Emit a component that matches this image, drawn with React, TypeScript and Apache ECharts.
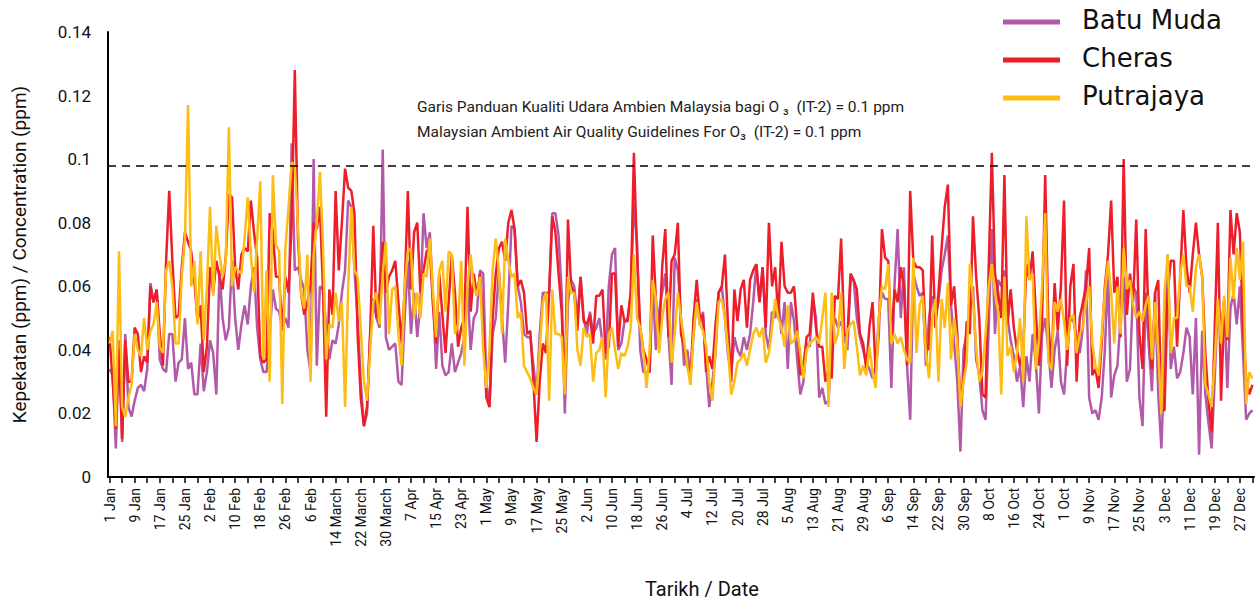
import React, { useEffect, useRef } from "react";
import * as echarts from "echarts";

const TICK_LABELS = [
  "1 Jan", "9 Jan", "17 Jan", "25 Jan", "2 Feb", "10 Feb", "18 Feb", "26 Feb", "6 Feb",
  "14 March", "22 March", "30 March", "7 Apr", "15 Apr", "23 Apr", "1 May", "9 May",
  "17 May", "25 May", "2 Jun", "10 Jun", "18 Jun", "26 Jun", "4 Jul", "12 Jul", "20 Jul",
  "28 Jul", "5 Aug", "13 Aug", "21 Aug", "29 Aug", "6 Sep", "14 Sep", "22 Sep", "30 Sep",
  "8 Oct", "16 Oct", "24 Oct", "1 Oct", "9 Nov", "17 Nov", "25 Nov", "3 Dec", "11 Dec",
  "19 Dec", "27 Dec",
];

const SERIES_NAMES = ["Batu Muda", "Cheras", "Putrajaya"];
const SERIES_COLORS = ["#b25aa9", "#ee1d2a", "#fdbd14"];
const GUIDELINE = 0.098;

const BATU_MUDA = [
  0.034, 0.032, 0.009, 0.043, 0.011, 0.045, 0.022, 0.019, 0.024, 0.028,
  0.029, 0.027, 0.034, 0.061, 0.055, 0.059, 0.037, 0.034, 0.033, 0.045,
  0.045, 0.03, 0.036, 0.037, 0.05, 0.034, 0.036, 0.026, 0.026, 0.042,
  0.027, 0.033, 0.043, 0.039, 0.026, 0.065, 0.05, 0.043, 0.047, 0.068,
  0.05, 0.04, 0.048, 0.054, 0.048, 0.06, 0.066, 0.047, 0.037, 0.033,
  0.033, 0.045, 0.059, 0.053, 0.052, 0.047, 0.05, 0.047, 0.105, 0.065,
  0.066, 0.062, 0.059, 0.04, 0.033, 0.1, 0.035, 0.06, 0.059, 0.047,
  0.037, 0.043, 0.042, 0.048, 0.058, 0.065, 0.087, 0.085, 0.065, 0.05,
  0.03, 0.016, 0.02, 0.045, 0.056, 0.05, 0.047, 0.103, 0.044, 0.04,
  0.041, 0.042, 0.03, 0.029, 0.05, 0.068, 0.045, 0.058, 0.044, 0.055,
  0.083, 0.072, 0.077, 0.057, 0.034, 0.052, 0.035, 0.032, 0.033, 0.042,
  0.033, 0.036, 0.039, 0.044, 0.06, 0.04, 0.05, 0.052, 0.065, 0.064,
  0.03, 0.022, 0.045, 0.05, 0.065, 0.05, 0.036, 0.055, 0.079, 0.078,
  0.06, 0.055, 0.045, 0.044, 0.044, 0.035, 0.026, 0.045, 0.058, 0.058,
  0.058, 0.083, 0.083, 0.076, 0.058, 0.02, 0.055, 0.062, 0.06, 0.05,
  0.063, 0.05, 0.045, 0.052, 0.045, 0.047, 0.05, 0.042, 0.037, 0.06,
  0.07, 0.072, 0.04, 0.042, 0.049, 0.05, 0.058, 0.086, 0.074, 0.04,
  0.033, 0.033, 0.033, 0.06, 0.04, 0.052, 0.058, 0.064, 0.045, 0.029,
  0.069, 0.065, 0.05, 0.035, 0.04, 0.032, 0.045, 0.056, 0.048, 0.052,
  0.035, 0.022, 0.03, 0.039, 0.058, 0.06, 0.05, 0.038, 0.033, 0.044,
  0.04, 0.038, 0.044, 0.04, 0.045, 0.055, 0.067, 0.055, 0.066, 0.045,
  0.04, 0.052, 0.05, 0.056, 0.045, 0.055, 0.034, 0.055, 0.049, 0.037,
  0.026, 0.03, 0.042, 0.041, 0.056, 0.05, 0.025, 0.028, 0.023, 0.024,
  0.045, 0.05, 0.047, 0.049, 0.044, 0.04, 0.062, 0.062, 0.05, 0.044,
  0.04, 0.036, 0.034, 0.031, 0.035, 0.05, 0.058, 0.056, 0.056, 0.028,
  0.06, 0.078, 0.05, 0.066, 0.035, 0.018, 0.064, 0.06, 0.057, 0.058,
  0.035, 0.05, 0.057, 0.05, 0.055, 0.065, 0.07, 0.076, 0.054, 0.042,
  0.03, 0.008, 0.04, 0.045, 0.055, 0.06, 0.037, 0.032, 0.021, 0.018,
  0.047, 0.078, 0.045, 0.062, 0.06, 0.065, 0.05, 0.043, 0.038, 0.03,
  0.035, 0.022, 0.038, 0.03, 0.045, 0.036, 0.02, 0.045, 0.05, 0.04,
  0.028, 0.04, 0.046, 0.03, 0.026, 0.04, 0.05, 0.049, 0.044, 0.039,
  0.047, 0.065, 0.025, 0.02, 0.021, 0.018, 0.025, 0.04, 0.065, 0.025,
  0.032, 0.035, 0.05, 0.063, 0.03, 0.034, 0.06, 0.058, 0.025, 0.016,
  0.058, 0.041, 0.027, 0.058, 0.026, 0.009, 0.037, 0.07, 0.034, 0.041,
  0.031, 0.033, 0.039, 0.047, 0.044, 0.026, 0.05, 0.007, 0.046, 0.026,
  0.017, 0.009, 0.031, 0.056, 0.046, 0.056, 0.028, 0.053, 0.058, 0.048,
  0.06, 0.039, 0.018, 0.02, 0.021,
];

const CHERAS = [
  0.044, 0.03, 0.015, 0.04, 0.012, 0.043, 0.03, 0.03, 0.047, 0.045,
  0.033, 0.038, 0.036, 0.06, 0.055, 0.059, 0.045, 0.035, 0.068, 0.09,
  0.068, 0.05, 0.051, 0.066, 0.077, 0.074, 0.071, 0.062, 0.049, 0.054,
  0.033, 0.041, 0.066, 0.058, 0.068, 0.063, 0.059, 0.069, 0.089, 0.088,
  0.066, 0.059, 0.07, 0.072, 0.071, 0.087, 0.077, 0.069, 0.038, 0.036,
  0.037, 0.083, 0.077, 0.063, 0.063, 0.046, 0.063, 0.058, 0.08, 0.128,
  0.075, 0.058, 0.051, 0.055, 0.06, 0.08, 0.078, 0.085, 0.058, 0.019,
  0.059, 0.051, 0.09, 0.065, 0.08, 0.097, 0.091, 0.09, 0.083, 0.045,
  0.025, 0.016, 0.022, 0.045, 0.079, 0.05, 0.058, 0.074, 0.058, 0.063,
  0.065, 0.068, 0.055, 0.042, 0.059, 0.09, 0.059, 0.077, 0.08, 0.058,
  0.065, 0.071, 0.072, 0.054, 0.042, 0.064, 0.051, 0.039, 0.055, 0.07,
  0.058, 0.041, 0.047, 0.05, 0.085, 0.052, 0.064, 0.057, 0.064, 0.048,
  0.025, 0.022, 0.05, 0.064, 0.072, 0.074, 0.068, 0.08, 0.084, 0.078,
  0.06, 0.062, 0.058, 0.045, 0.046, 0.03, 0.011, 0.03, 0.042, 0.039,
  0.058, 0.082, 0.077, 0.064, 0.052, 0.026, 0.081, 0.06, 0.058, 0.046,
  0.063, 0.049, 0.048, 0.051, 0.042, 0.057, 0.057, 0.059, 0.039, 0.041,
  0.064, 0.064, 0.041, 0.054, 0.049, 0.049, 0.058, 0.102, 0.07, 0.047,
  0.04, 0.037, 0.033, 0.076, 0.056, 0.042, 0.066, 0.078, 0.044, 0.068,
  0.07, 0.08, 0.045, 0.041, 0.035, 0.031, 0.05, 0.062, 0.05, 0.051,
  0.033, 0.038, 0.034, 0.048, 0.058, 0.06, 0.07, 0.047, 0.03, 0.059,
  0.049, 0.059, 0.062, 0.047, 0.062, 0.065, 0.067, 0.055, 0.066, 0.047,
  0.08, 0.06, 0.066, 0.05, 0.074, 0.06, 0.058, 0.058, 0.06, 0.047,
  0.032, 0.035, 0.044, 0.045, 0.058, 0.047, 0.041, 0.041, 0.03, 0.034,
  0.031, 0.057, 0.056, 0.075, 0.045, 0.044, 0.064, 0.062, 0.059, 0.045,
  0.042, 0.034, 0.047, 0.055, 0.033, 0.045, 0.078, 0.069, 0.068, 0.042,
  0.059, 0.055, 0.066, 0.06, 0.035, 0.09, 0.068, 0.066, 0.066, 0.065,
  0.042, 0.04, 0.076, 0.047, 0.058, 0.072, 0.085, 0.092, 0.054, 0.06,
  0.045, 0.022, 0.031, 0.049, 0.045, 0.082, 0.063, 0.05, 0.026, 0.025,
  0.066, 0.102, 0.064, 0.058, 0.05, 0.095, 0.048, 0.059, 0.047, 0.04,
  0.035, 0.04, 0.067, 0.062, 0.071, 0.052, 0.035, 0.05, 0.095, 0.048,
  0.035, 0.061, 0.046, 0.06, 0.087, 0.035, 0.06, 0.067, 0.03, 0.05,
  0.055, 0.06, 0.072, 0.032, 0.034, 0.028, 0.042, 0.06, 0.07, 0.087,
  0.058, 0.063, 0.044, 0.1, 0.051, 0.064, 0.055, 0.081, 0.045, 0.034,
  0.078, 0.047, 0.034, 0.058, 0.062, 0.021, 0.021, 0.058, 0.068, 0.068,
  0.041, 0.063, 0.084, 0.066, 0.058, 0.07, 0.08, 0.07, 0.063, 0.039,
  0.024, 0.014, 0.047, 0.08, 0.024, 0.052, 0.043, 0.084, 0.07, 0.083,
  0.077, 0.047, 0.031, 0.026, 0.029,
];

const PUTRAJAYA = [
  0.042, 0.046, 0.016, 0.071, 0.022, 0.019, 0.025, 0.029, 0.045, 0.04,
  0.038, 0.05, 0.04, 0.046, 0.048, 0.055, 0.041, 0.039, 0.065, 0.068,
  0.06, 0.042, 0.042, 0.063, 0.075, 0.117, 0.06, 0.068, 0.048, 0.071,
  0.043, 0.06, 0.085, 0.057, 0.079, 0.07, 0.063, 0.068, 0.11, 0.06,
  0.066, 0.065, 0.064, 0.075, 0.088, 0.07, 0.058, 0.075, 0.093, 0.037,
  0.065, 0.03, 0.095, 0.073, 0.071, 0.023, 0.072, 0.085, 0.099, 0.098,
  0.079, 0.058, 0.053, 0.07, 0.03, 0.07, 0.08, 0.096, 0.072, 0.037,
  0.048, 0.047, 0.058, 0.049, 0.055, 0.022, 0.06, 0.085, 0.065, 0.063,
  0.047, 0.03, 0.024, 0.04, 0.055, 0.058, 0.048, 0.064, 0.074, 0.045,
  0.059, 0.06, 0.045, 0.035, 0.06, 0.071, 0.072, 0.05, 0.058, 0.05,
  0.064, 0.063, 0.075, 0.058, 0.044, 0.065, 0.068, 0.052, 0.071, 0.07,
  0.045, 0.048, 0.068, 0.035, 0.06, 0.07, 0.06, 0.057, 0.063, 0.04,
  0.028, 0.04, 0.065, 0.075, 0.065, 0.045, 0.075, 0.068, 0.063, 0.064,
  0.05, 0.052, 0.035, 0.033, 0.031, 0.028, 0.026, 0.04, 0.055, 0.058,
  0.024, 0.059, 0.045, 0.045, 0.044, 0.026, 0.063, 0.058, 0.058, 0.04,
  0.035, 0.047, 0.044, 0.045, 0.03, 0.039, 0.04, 0.044, 0.025, 0.045,
  0.047, 0.04, 0.034, 0.039, 0.038, 0.041, 0.047, 0.07, 0.05, 0.047,
  0.04, 0.028, 0.04, 0.062, 0.056, 0.039, 0.05, 0.056, 0.058, 0.036,
  0.045, 0.058, 0.05, 0.043, 0.035, 0.029, 0.045, 0.055, 0.048, 0.046,
  0.041, 0.03, 0.024, 0.04, 0.055, 0.056, 0.05, 0.04, 0.026, 0.03,
  0.036, 0.037, 0.039, 0.035, 0.04, 0.045, 0.047, 0.044, 0.047, 0.036,
  0.039, 0.047, 0.056, 0.05, 0.047, 0.041, 0.054, 0.042, 0.043, 0.046,
  0.039, 0.031, 0.04, 0.042, 0.043, 0.044, 0.042, 0.05, 0.058, 0.022,
  0.058, 0.042, 0.045, 0.058, 0.034, 0.046, 0.048, 0.049, 0.041, 0.032,
  0.035, 0.032, 0.041, 0.033, 0.028, 0.05, 0.06, 0.059, 0.067, 0.042,
  0.045, 0.042, 0.044, 0.04, 0.037, 0.036, 0.069, 0.039, 0.054, 0.057,
  0.039, 0.031, 0.05, 0.056, 0.03, 0.056, 0.047, 0.061, 0.037, 0.05,
  0.042, 0.022, 0.03, 0.036, 0.067, 0.056, 0.041, 0.03, 0.033, 0.045,
  0.06, 0.067, 0.058, 0.052, 0.026, 0.063, 0.038, 0.041, 0.033, 0.039,
  0.05, 0.03, 0.082, 0.062, 0.064, 0.034, 0.043, 0.06, 0.083, 0.036,
  0.034, 0.055, 0.052, 0.056, 0.049, 0.04, 0.05, 0.051, 0.039, 0.045,
  0.047, 0.055, 0.06, 0.042, 0.035, 0.032, 0.045, 0.058, 0.068, 0.058,
  0.042, 0.06, 0.045, 0.072, 0.059, 0.062, 0.054, 0.05, 0.052, 0.049,
  0.054, 0.057, 0.037, 0.055, 0.04, 0.02, 0.058, 0.07, 0.039, 0.05,
  0.05, 0.064, 0.07, 0.06, 0.06, 0.052, 0.066, 0.07, 0.063, 0.029,
  0.026, 0.022, 0.037, 0.056, 0.042, 0.057, 0.044, 0.069, 0.056, 0.072,
  0.062, 0.074, 0.023, 0.033, 0.031,
];

const SERIES_VALUES = [BATU_MUDA, CHERAS, PUTRAJAYA];
const DAYS = BATU_MUDA.map((_, i) => String(i + 1));

const FONT = "Roboto, 'DejaVu Sans', sans-serif";
const LEGEND_FONT = "'DejaVu Sans', Roboto, sans-serif";
const LEGEND_ROWS = [22, 60, 98];

export default function App() {
  const ref = useRef<HTMLDivElement>(null);

  useEffect(() => {
    if (!ref.current) return;
    const chart = echarts.init(ref.current, undefined, { renderer: "svg" });

    const series: any[] = SERIES_NAMES.map((name, i) => ({
      name,
      type: "line",
      data: SERIES_VALUES[i],
      symbol: "none",
      smooth: false,
      lineStyle: { color: SERIES_COLORS[i], width: 2.5 },
      itemStyle: { color: SERIES_COLORS[i] },
      z: 2 + i,
    }));
    series[0].markLine = {
      silent: true,
      symbol: "none",
      precision: 4,
      label: { show: false },
      lineStyle: { color: "#000", type: [8, 6], width: 1.5 },
      data: [{ yAxis: GUIDELINE }],
    };

    const legendGraphics: any[] = [];
    SERIES_NAMES.forEach((name, i) => {
      legendGraphics.push({
        type: "rect",
        left: 1003,
        top: LEGEND_ROWS[i] - 2.5,
        shape: { width: 57, height: 5 },
        style: { fill: SERIES_COLORS[i] },
      });
      legendGraphics.push({
        type: "text",
        left: 1082,
        top: LEGEND_ROWS[i] - 15,
        style: {
          text: name,
          font: `26px ${LEGEND_FONT}`,
          fill: "#111",
        },
      });
    });

    chart.setOption({
      animation: false,
      textStyle: { fontFamily: FONT },
      grid: { left: 108, right: 6, top: 32, bottom: 128, containLabel: false },
      xAxis: {
        type: "category",
        data: DAYS,
        boundaryGap: true,
        axisLine: { lineStyle: { color: "#000", width: 2 } },
        axisTick: {
          show: true,
          interval: 3,
          alignWithLabel: true,
          length: 6,
          lineStyle: { color: "#000", width: 1.5 },
        },
        axisLabel: {
          interval: 7,
          rotate: 90,
          margin: 11,
          fontSize: 14,
          color: "#111",
          fontFamily: FONT,
          formatter: (_v: string, idx: number) =>
            idx % 8 === 0 ? TICK_LABELS[idx / 8] ?? "" : "",
        },
        splitLine: { show: false },
      },
      yAxis: {
        type: "value",
        min: 0,
        max: 0.14,
        interval: 0.02,
        axisLine: { show: true, lineStyle: { color: "#000", width: 2 } },
        axisTick: { show: false },
        splitLine: { show: false },
        axisLabel: { fontSize: 17, margin: 17, color: "#111", fontFamily: FONT },
        name: "Kepekatan (ppm) / Concentration (ppm)",
        nameLocation: "middle",
        nameGap: 79,
        nameTextStyle: { fontSize: 19, color: "#111", fontFamily: FONT },
      },
      graphic: [
        {
          type: "text",
          left: 417,
          top: 99,
          style: {
            text: "Garis Panduan Kualiti Udara Ambien Malaysia bagi O \u2083  (IT-2) = 0.1 ppm",
            font: `15.5px ${FONT}`,
            fill: "#222",
          },
        },
        {
          type: "text",
          left: 417,
          top: 124,
          style: {
            text: "Malaysian Ambient Air Quality Guidelines For O\u2083  (IT-2) = 0.1 ppm",
            font: `15.5px ${FONT}`,
            fill: "#222",
          },
        },
        {
          type: "text",
          left: 645,
          top: 579,
          style: {
            text: "Tarikh / Date",
            font: `20px ${FONT}`,
            fill: "#111",
          },
        },
        ...legendGraphics,
      ],
      series,
    });

    return () => chart.dispose();
  }, []);

  return (
    <div
      ref={ref}
      style={{ position: "fixed", left: 0, top: 0, width: 1260, height: 605, background: "#fff" }}
    />
  );
}
